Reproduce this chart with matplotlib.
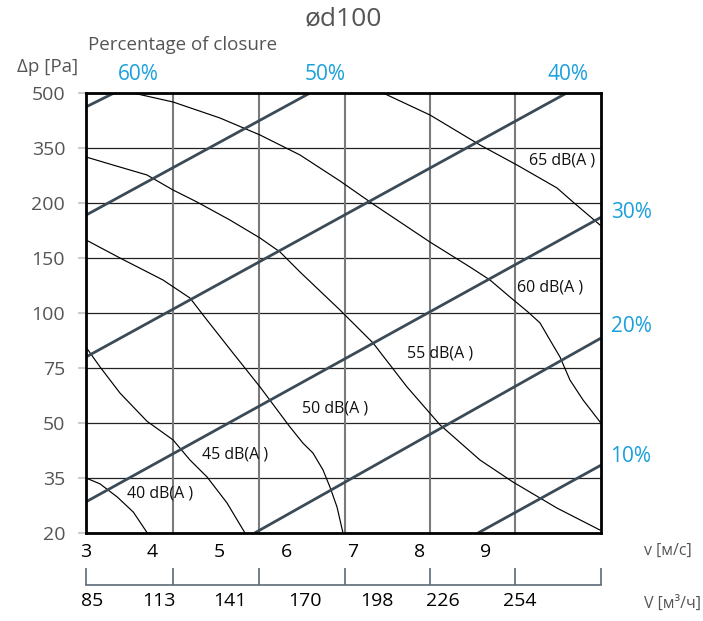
import numpy as np
import matplotlib.pyplot as plt

plt.rcParams['font.family'] = ['Open Sans', 'DejaVu Sans']

# pressure axis (non-uniform steps) and velocity axis
dp_ticks = [20, 35, 50, 75, 100, 150, 200, 350, 500]
v_ticks = [3, 4, 5, 6, 7, 8, 9]
v_grid = [4.305, 5.595, 6.885, 8.16, 9.435]
v_max = 10.725

# flow rate labels [m3/h] and where they sit under the chart (in v units)
flow_labels = ['85', '113', '141', '170', '198', '226', '254']
flow_pos = [3.09, 4.095, 5.16, 6.285, 7.365, 8.355, 9.51]

# damper position lines (v, dp at both ends)
damper_v = [[3.0, 3.42], [3.0, 6.36], [3.0, 10.21], [3.0, 10.725], [5.53, 10.725], [8.88, 10.725]]
damper_dp = [[462, 500], [189, 500], [80, 500], [28.5, 187], [20, 88.6], [20, 38.5]]
damper_names = ['60%', '50%', '40%', '30%', '20%', '10%']

# noise level curves
c40_v = [3.0, 3.21, 3.47, 3.71, 3.92]
c40_dp = [35, 33.4, 29.8, 25.7, 20]
c45_v = [3.0, 3.21, 3.51, 3.915, 4.305, 4.56, 4.815, 5.115, 5.385]
c45_dp = [84.5, 75.5, 63.6, 50.8, 45.4, 39.9, 35.3, 28.2, 20]
c50_v = [3.0, 3.51, 4.155, 4.56, 4.815, 5.205, 5.61, 6.06, 6.255, 6.405, 6.555, 6.66, 6.765, 6.855]
c50_dp = [166.4, 150, 130, 113.6, 96.8, 81.8, 66.4, 48.9, 44.5, 41.8, 37.2, 32.5, 27.1, 20]
c55_v = [3.0, 3.405, 3.915, 4.305, 4.665, 5.16, 5.61, 5.91, 6.21, 6.81, 7.305, 7.815, 8.31, 8.91, 9.405, 10.065, 10.71]
c55_dp = [325.5, 303.6, 276.4, 235.5, 202.7, 184.5, 168.2, 155.5, 137.3, 102.7, 86.4, 66.4, 49.5, 39.9, 33.9, 26.8, 20.8]
c60_v = [3.705, 4.305, 5.01, 5.61, 6.21, 6.81, 7.305, 8.16, 8.76, 9.06, 9.36, 9.63, 9.81, 9.96, 10.11, 10.26, 10.455, 10.71]
c60_dp = [500, 475.5, 431.8, 385.5, 331, 260, 199.1, 164.5, 141.8, 130, 114.5, 100.9, 95.5, 87.7, 80, 69.5, 60.5, 50.5]
c65_v = [7.455, 8.16, 8.91, 9.465, 10.065, 10.305, 10.71]
c65_dp = [500, 440, 358.2, 303.6, 241, 202.7, 180]

curves_v = [c40_v, c45_v, c50_v, c55_v, c60_v, c65_v]
curves_dp = [c40_dp, c45_dp, c50_dp, c55_dp, c60_dp, c65_dp]
curve_names = ['40 dB(A )', '45 dB(A )', '50 dB(A )', '55 dB(A )', '60 dB(A )', '65 dB(A )']
label_v = [4.11, 5.235, 6.735, 8.31, 9.96, 10.14]
label_dp = [30.9, 41.3, 56.8, 81.8, 123.6, 317]

idx = np.arange(len(dp_ticks))


def fwd(p):
    return np.interp(p, dp_ticks, idx)


def inv(i):
    return np.interp(i, idx, dp_ticks)


W, H = 703, 621
fig = plt.figure(figsize=(W / 100, H / 100), dpi=100)
ax = fig.add_axes([86 / W, 1 - 533 / H, 515 / W, 440 / H])
ax.set_yscale('function', functions=(fwd, inv))
ax.set_xlim(3, v_max)
ax.set_ylim(20, 500)

# grid
for p in dp_ticks:
    ax.axhline(p, color='#222222', lw=0.9, zorder=1)
for g in v_grid:
    ax.axvline(g, color='#7a7a7a', lw=1.5, zorder=1)

for xs, ys in zip(damper_v, damper_dp):
    ax.plot(xs, ys, color='#3a4b57', lw=2.0, zorder=3, solid_capstyle='butt')

for xs, ys in zip(curves_v, curves_dp):
    ax.plot(xs, ys, color='black', lw=0.85, zorder=2)

for name, x, y in zip(curve_names, label_v, label_dp):
    ax.text(x, y, name, fontsize=11.5, ha='center', va='center', color='#111111', zorder=4)

for s in ax.spines.values():
    s.set_linewidth(2.0)
    s.set_color('black')
    s.set_zorder(5)

ax.set_yticks(dp_ticks)
ax.set_yticklabels([str(p) for p in dp_ticks])
ax.set_xticks(v_ticks)
ax.set_xticklabels([str(v) for v in v_ticks])
ax.tick_params(axis='y', length=6, color='#cccccc', width=1.5, pad=9, labelsize=14, labelcolor='#555555')
ax.tick_params(axis='x', length=0, pad=7, labelsize=14, labelcolor='black')
ax.minorticks_off()

# flow rate scale below
ax2 = fig.add_axes([86 / W, 1 - 585 / H, 515 / W, 20 / H])
ax2.set_xlim(3, v_max)
ax2.set_ylim(0, 1)
ax2.set_yticks([])
for k in ['top', 'left', 'right']:
    ax2.spines[k].set_visible(False)
ax2.spines['bottom'].set_color('#5b6b78')
ax2.spines['bottom'].set_linewidth(1.2)
ax2.set_xticks([3] + v_grid + [v_max])
ax2.set_xticklabels([])
ax2.tick_params(axis='x', which='major', direction='in', length=12, color='#5b6b78', width=1.2)
ax2.set_xticks(flow_pos, minor=True)
ax2.set_xticklabels(flow_labels, minor=True)
ax2.tick_params(axis='x', which='minor', length=0, pad=5, labelsize=14, labelcolor='black')
ax2.patch.set_alpha(0)

# texts around the chart
fig.text(343 / W, 1 - 19 / H, 'ød100', fontsize=19, color='#555555', ha='center', va='center')
fig.text(183 / W, 1 - 45 / H, 'Percentage of closure', fontsize=13.5, color='#555555', ha='center', va='center')
fig.text(48 / W, 1 - 67 / H, 'Δp [Pa]', fontsize=13.5, color='#555555', ha='center', va='center')
fig.text(668 / W, 1 - 551 / H, 'v [м/с]', fontsize=11.5, color='#555555', ha='center', va='center')
fig.text(672 / W, 1 - 604 / H, 'V [м³/ч]', fontsize=11.5, color='#555555', ha='center', va='center')

blue = '#1aa0dc'
pct_x = [138, 325, 568, 631, 631, 631]
pct_y = [75, 75, 75, 213, 327, 457]
for name, x, y in zip(damper_names, pct_x, pct_y):
    fig.text(x / W, 1 - y / H, name, fontsize=15, color=blue, ha='center', va='center')

fig.savefig('out.png', dpi=100)
